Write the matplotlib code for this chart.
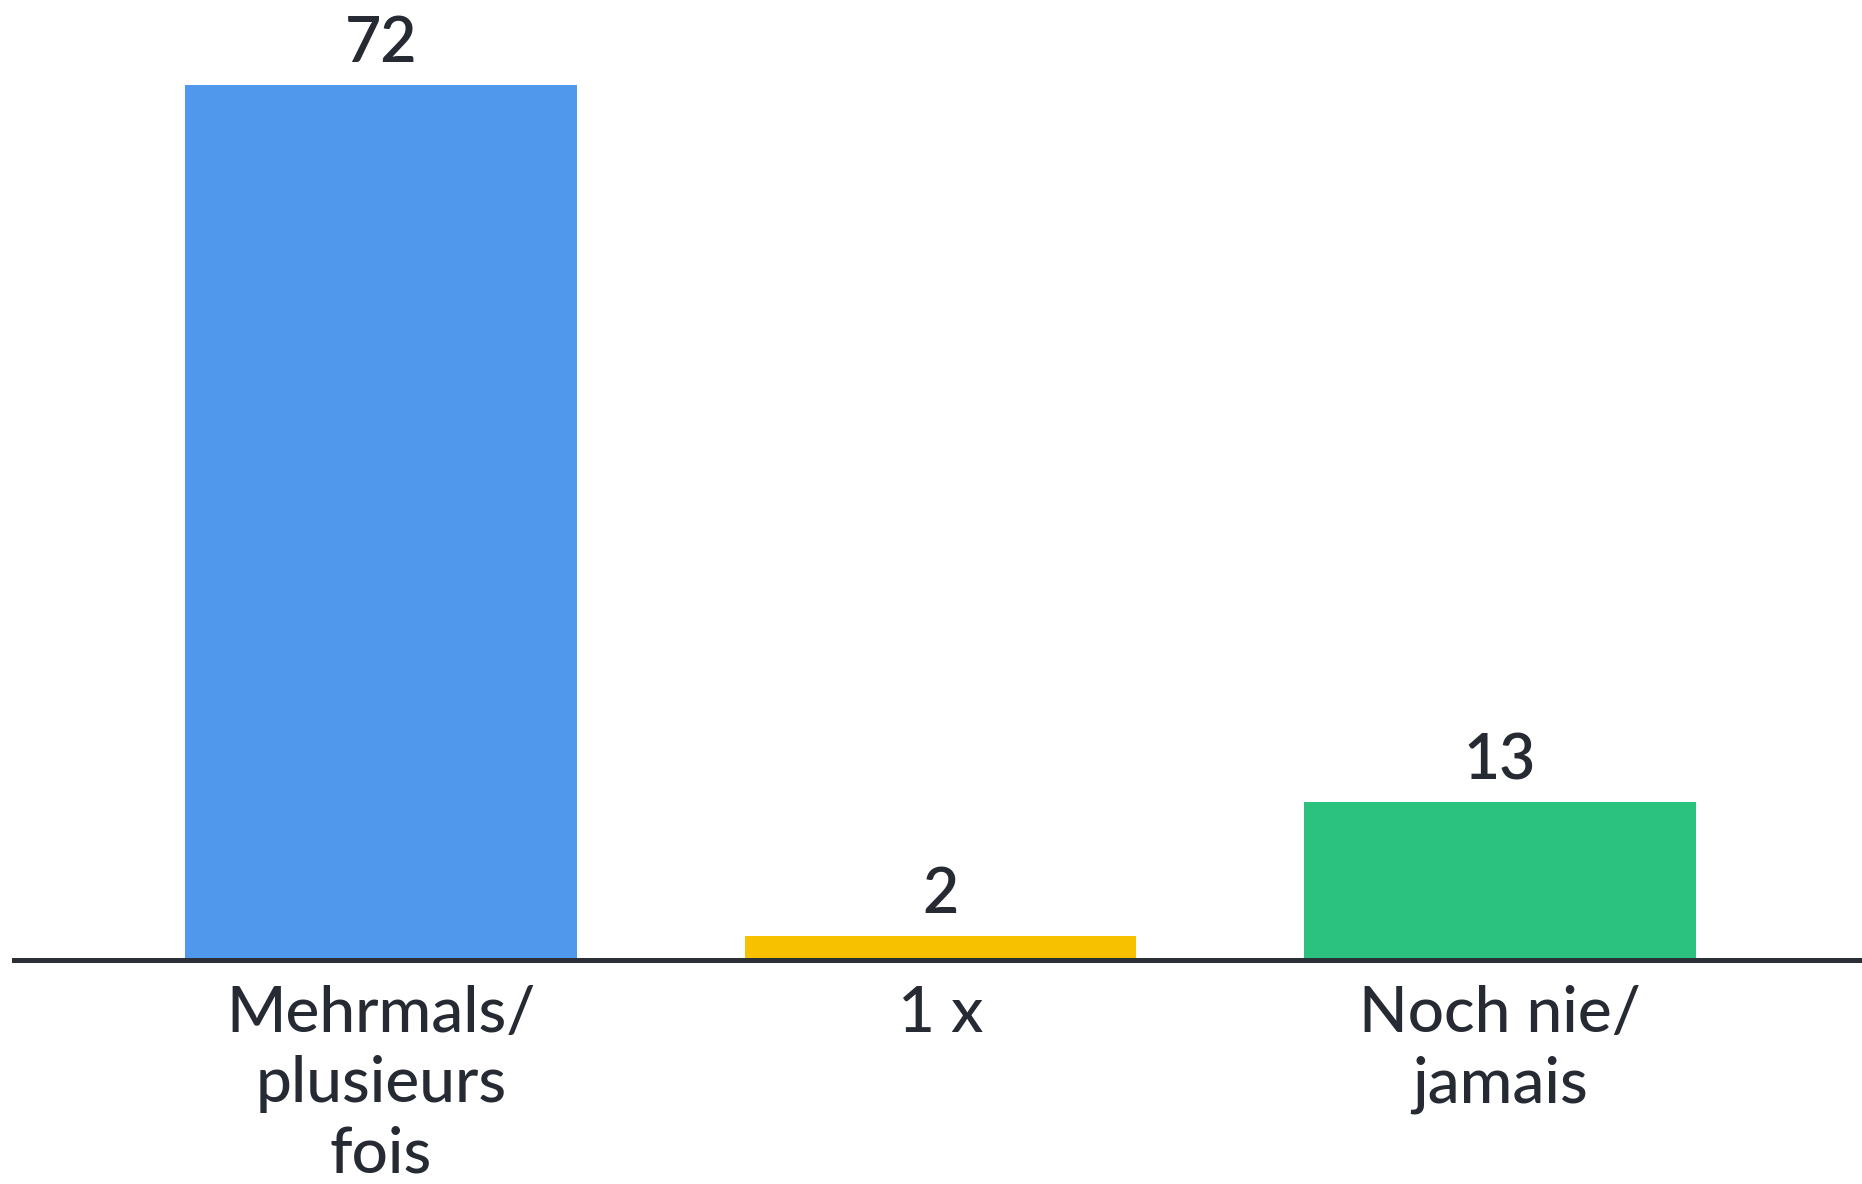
import matplotlib
matplotlib.use("Agg")
import matplotlib.pyplot as plt

categories = ["Mehrmals/\nplusieurs\nfois", "1 x", "Noch nie/\njamais"]
values = [72, 2, 13]
colors = ["#4F98EC", "#F8C100", "#2AC27E"]

plt.rcParams['font.family'] = ['Lato', 'DejaVu Sans']
text_col = "#262A33"

fig = plt.figure(figsize=(18.62, 11.84), dpi=100)
ax = fig.add_axes([14/1862, 224/1184, 1 - 14/1862, 960/1184])

x = range(len(values))
bars = ax.bar(x, values, width=0.7, color=colors, zorder=1)

# value labels above bars
for b, v in zip(bars, values):
    ax.annotate(str(v), (b.get_x() + b.get_width()/2, v), xytext=(0, 16.5),
                textcoords="offset points", ha="center", va="baseline",
                fontsize=45, color=text_col, fontweight="semibold")

ax.set_xlim(-0.656, 2.647)
ax.set_ylim(0, 79)
ax.set_xticks(list(x))
ax.set_xticklabels(categories, fontsize=46, color=text_col, linespacing=1.26,
                   fontweight="medium")
ax.tick_params(axis="x", length=0, pad=18)
ax.set_yticks([])
for s in ["top", "left", "right"]:
    ax.spines[s].set_visible(False)
ax.spines["bottom"].set_linewidth(3.6)
ax.spines["bottom"].set_color("#2B2F36")

fig.savefig("out.png", dpi=100)
